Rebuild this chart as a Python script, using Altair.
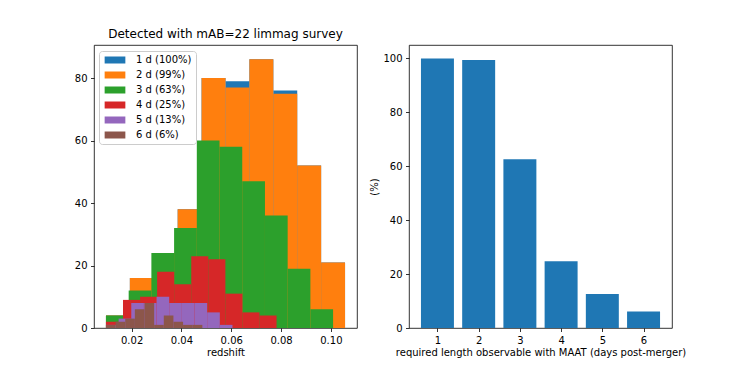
import altair as alt
import pandas as pd

# ---- data ----
series_labels = ["1 d (100%)", "2 d (99%)", "3 d (63%)", "4 d (25%)", "5 d (13%)", "6 d (6%)"]
series_colors = ["#1f77b4", "#ff7f0e", "#2ca02c", "#d62728", "#9467bd", "#8c564b"]
z_lo = [0.0097, 0.0097, 0.0097, 0.0097, 0.0097, 0.0097]
z_hi = [0.1057, 0.1057, 0.1009, 0.0782, 0.0605, 0.0484]
counts_1d = [4, 16, 24, 38, 80, 79, 86, 76, 52, 21]
counts_2d = [4, 16, 24, 38, 80, 77, 86, 75, 52, 21]
counts_3d = [4, 12, 24, 32, 60, 58, 47, 36, 19, 6]
counts_4d = [2, 9, 10, 18, 14, 23, 22, 11, 5, 4]
counts_5d = [1, 3, 8, 8, 10, 8, 8, 8, 5, 1]
counts_6d = [1, 2, 3, 6, 8, 1, 4, 2, 1, 1]
all_counts = [counts_1d, counts_2d, counts_3d, counts_4d, counts_5d, counts_6d]

days = [1, 2, 3, 4, 5, 6]
pct = [100, 99.4, 62.6, 24.8, 12.6, 6.1]

redshift_ticks = [0.02, 0.04, 0.06, 0.08, 0.10]
count_ticks = [0, 20, 40, 60, 80]
pct_ticks = [0, 20, 40, 60, 80, 100]

# ---- build histogram table (matplotlib-like 10 equal bins between min and max) ----
rows = []
for lab, lo, hi, cnts in zip(series_labels, z_lo, z_hi, all_counts):
    nb = len(cnts)
    w = (hi - lo) / nb
    for i, c in enumerate(cnts):
        rows.append({"series": lab, "x0": lo + i * w, "x1": lo + (i + 1) * w, "count": c})
hist_df = pd.DataFrame(rows)
bar_df = pd.DataFrame({"day": days, "pct": pct})

FONT = "DejaVu Sans"

hist = (
    alt.Chart(hist_df)
    .transform_calculate(base="0")
    .mark_rect()
    .encode(
        x=alt.X(
            "x0:Q",
            scale=alt.Scale(domain=[0.0049, 0.1105], nice=False, zero=False),
            axis=alt.Axis(values=redshift_ticks, format=".2f", title="redshift"),
        ),
        x2="x1:Q",
        y=alt.Y(
            "count:Q",
            scale=alt.Scale(domain=[0, 90.6], nice=False),
            axis=alt.Axis(values=count_ticks, title=None, minExtent=85, maxExtent=85),
        ),
        y2="base:Q",
        color=alt.Color(
            "series:N",
            scale=alt.Scale(domain=series_labels, range=series_colors),
            legend=alt.Legend(
                title=None,
                orient="none",
                legendX=5,
                legendY=6,
                symbolType="M-2.96,-1H2.96V1H-2.96Z",
                symbolSize=49,
                symbolOffset=7,
                symbolStrokeWidth=0,
                labelOffset=16,
                labelFont=FONT,
                labelFontSize=10,
                labelColor="black",
                rowPadding=5,
                padding=4,
                fillColor="white",
                strokeColor="#cccccc",
                cornerRadius=3,
            ),
        ),
    )
    .properties(
        width=263,
        height=283,
        title=alt.TitleParams(
            "Detected with mAB=22 limmag survey",
            font=FONT,
            fontSize=12,
            fontWeight="normal",
            color="black",
            offset=4,
            anchor="middle",
        ),
    )
)

bars = (
    alt.Chart(bar_df)
    .transform_calculate(lo="datum.day - 0.4", hi="datum.day + 0.4", base="0")
    .mark_rect(color="#1f77b4")
    .encode(
        x=alt.X(
            "lo:Q",
            scale=alt.Scale(domain=[0.31, 6.69], nice=False, zero=False),
            axis=alt.Axis(values=days, format="d",
                          title="required length observable with MAAT (days post-merger)"),
        ),
        x2="hi:Q",
        y=alt.Y(
            "pct:Q",
            scale=alt.Scale(domain=[0, 105], nice=False),
            axis=alt.Axis(values=pct_ticks, title="(%)", titleX=-35, titleY=141.5,
                          titleBaseline="middle"),
        ),
        y2="base:Q",
    )
    .properties(width=263, height=283)
)

chart = (
    alt.hconcat(hist, bars, spacing=52, bounds="flush")
    .properties(padding={"left": 0, "top": 19, "right": 5, "bottom": 5})
    .configure_view(stroke="black", strokeWidth=0.8)
    .configure_axis(
        domain=False,
        grid=False,
        ticks=True,
        tickColor="black",
        tickSize=3.5,
        tickWidth=0.8,
        labelPadding=3.5,
        labelFont=FONT,
        labelFontSize=10,
        labelColor="black",
        titleFont=FONT,
        titleFontSize=10,
        titleFontWeight="normal",
        titleColor="black",
        titlePadding=2,
    )
)

chart.save("out.html", embed_options={"renderer": "svg", "actions": False})
